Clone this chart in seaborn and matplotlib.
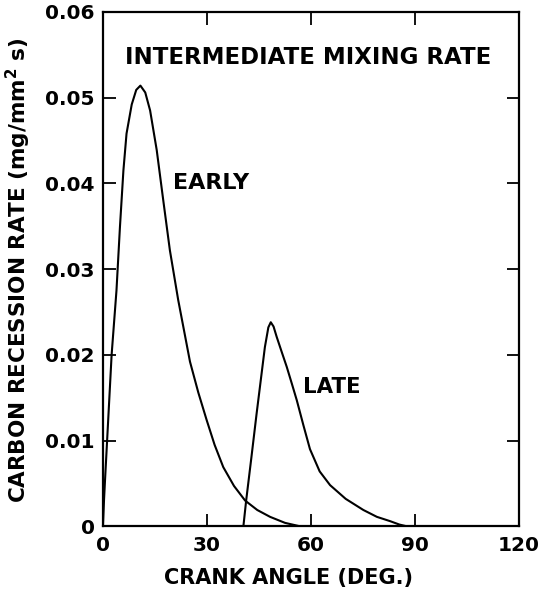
import numpy as np
import pandas as pd
import seaborn as sns
import matplotlib
matplotlib.use("Agg")
import matplotlib.pyplot as plt

# %% data (crank angle in deg, rate in mg/mm2 s)
early_angle = [0, 0.3, 0.6, 1.2, 2.5, 3.9, 4.9, 5.9, 6.8, 8.3, 9.6, 10.8, 12.2, 13.6,
               15.5, 17.4, 19.3, 21.7, 23.4, 25.1, 27.5, 29.9, 32.2, 34.7, 37.8,
               41.0, 44.5, 48.2, 52.5, 56.8]
early_rate = [0, 0.0030, 0.0054, 0.0100, 0.0200, 0.0275, 0.0349, 0.0415, 0.0458,
              0.0492, 0.0509, 0.0514, 0.0506, 0.0485, 0.0439, 0.0380, 0.0322,
              0.0264, 0.0228, 0.0192, 0.0156, 0.0124, 0.0095, 0.0069, 0.0047,
              0.0030, 0.0019, 0.0011, 0.0004, 0.0]

late_angle = [40.5, 41.3, 42.8, 44.3, 45.5, 46.7, 47.7, 48.4, 49.2, 50.1, 51.5, 53.0,
              54.5, 55.9, 57.8, 59.7, 62.5, 65.5, 70.0, 75.1, 79.0, 82.8, 85.5, 87.6]
late_rate = [0, 0.0030, 0.0080, 0.0131, 0.0170, 0.0209, 0.0232, 0.0238, 0.0233,
             0.0221, 0.0204, 0.0186, 0.0166, 0.0147, 0.0118, 0.0090, 0.0064,
             0.0048, 0.0032, 0.0019, 0.0011, 0.0006, 0.0002, 0.0]

x_ticks = [0, 30, 60, 90, 120]
y_ticks = [0, 0.01, 0.02, 0.03, 0.04, 0.05, 0.06]
y_ticklabels = ["0", "0.01", "0.02", "0.03", "0.04", "0.05", "0.06"]

df = pd.concat([
    pd.DataFrame({"angle": early_angle, "rate": early_rate, "case": "EARLY"}),
    pd.DataFrame({"angle": late_angle, "rate": late_rate, "case": "LATE"}),
])

# %% plot
sns.set_style("ticks")
plt.rcParams["font.family"] = ["DejaVu Sans"]
plt.rcParams["font.weight"] = "bold"
plt.rcParams["mathtext.fontset"] = "dejavusans"
for k in ["text.color", "axes.labelcolor", "xtick.color", "ytick.color", "axes.edgecolor"]:
    plt.rcParams[k] = "black"

fig = plt.figure(figsize=(5.39, 5.94), dpi=100)
ax = fig.add_axes([0.191, 0.114, 0.772, 0.866])

sns.lineplot(data=df, x="angle", y="rate", units="case", estimator=None,
             color="black", linewidth=1.5, sort=False, ax=ax)

ax.set_xlim(0, 120)
ax.set_ylim(0, 0.06)
ax.set_xticks(x_ticks)
ax.set_xticklabels([str(t) for t in x_ticks])
ax.set_yticks(y_ticks)
ax.set_yticklabels(y_ticklabels)
ax.tick_params(direction="in", length=9, width=1.3, top=True, right=True,
               labelsize=14.5)
ax.tick_params(axis="y", pad=6)
ax.tick_params(axis="x", pad=7)
for s in ax.spines.values():
    s.set_linewidth(1.6)

ax.set_xlabel("CRANK ANGLE (DEG.)", fontsize=15, fontweight="bold")
ax.xaxis.set_label_coords(0.447, -0.082)
ax.set_ylabel("CARBON RECESSION RATE (mg/mm$^\\mathbf{2}$ s)", fontsize=15.5,
              fontweight="bold")
ax.yaxis.set_label_coords(-0.168, 0.498)

ax.text(6.3, 0.0547, "INTERMEDIATE MIXING RATE", fontsize=16.5, fontweight="bold",
        va="center", ha="left")
ax.text(20.2, 0.040, "EARLY", fontsize=16, fontweight="bold", va="center", ha="left")
ax.text(57.7, 0.0162, "LATE", fontsize=15.3, fontweight="bold", va="center", ha="left")

fig.savefig("out.png", dpi=100)
